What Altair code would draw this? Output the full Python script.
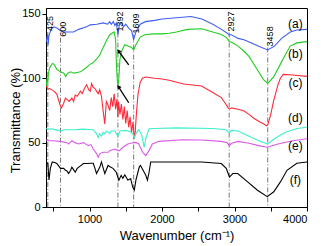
import altair as alt
import pandas as pd

FONT = "Liberation Sans"

# ---- data (wavenumber, transmittance %) ----
a_wn = [400, 412, 422, 430, 440, 470, 509, 550, 600, 640, 700, 780, 850, 960, 1010, 1100, 1190, 1250, 1280, 1300, 1330, 1350, 1370, 1392, 1410, 1440, 1470, 1500, 1540, 1580, 1609, 1640, 1700, 1770, 1900, 2000, 2200, 2400, 2550, 2700, 2820, 2900, 2927, 2950, 3050, 3130, 3250, 3350, 3458, 3550, 3650, 3770, 3860, 4000]
a_t = [128, 131, 134, 126, 133, 138, 140, 139, 137, 136, 136, 136, 138, 140, 141.5, 142, 143, 142, 144, 142, 144, 141, 143, 134, 141, 143, 140, 142, 139, 137, 130, 136, 142, 144, 145, 146, 147, 148, 146, 142, 138, 135, 133.5, 134, 131, 130, 127, 124.5, 122, 125, 131, 136, 137.5, 138]

b_wn = [400, 415, 425, 432, 450, 480, 495, 520, 549, 600, 645, 672, 700, 740, 780, 830, 875, 950, 1011, 1050, 1093, 1140, 1188, 1240, 1283, 1340, 1360, 1372, 1385, 1395, 1405, 1420, 1450, 1487, 1530, 1580, 1609, 1640, 1700, 1772, 1900, 2000, 2100, 2200, 2350, 2546, 2700, 2818, 2880, 2913, 2927, 2960, 3050, 3131, 3200, 3300, 3400, 3458, 3540, 3633, 3700, 3769, 3860, 4000]
b_t = [93, 100, 97, 103, 108, 111, 111.5, 110, 107, 105, 104, 101.5, 104, 105, 104, 104.5, 105, 108, 111, 112, 114.6, 118, 124, 130, 134, 136, 130, 110, 97, 95, 100, 115, 122, 126, 125, 124, 122, 126, 132, 134, 134.5, 134.5, 135, 136, 138, 138.5, 136, 134, 132, 130, 128.5, 128, 125, 121, 117, 108, 99, 96, 101, 111, 118, 125, 127.5, 128.5]

c_wn = [400, 415, 430, 450, 480, 509, 549, 590, 613, 640, 668, 700, 720, 757, 780, 803, 830, 875, 900, 930, 961, 990, 1011, 1029, 1050, 1075, 1097, 1120, 1140, 1165, 1188, 1211, 1232, 1250, 1279, 1300, 1320, 1340, 1360, 1380, 1392, 1400, 1420, 1440, 1460, 1480, 1500, 1520, 1540, 1560, 1580, 1600, 1618, 1630, 1650, 1670, 1700, 1730, 1772, 1900, 2000, 2098, 2300, 2546, 2700, 2818, 2880, 2913, 2930, 2960, 3050, 3131, 3200, 3266, 3350, 3402, 3440, 3460, 3500, 3538, 3600, 3633, 3674, 3800, 4000]
c_t = [94, 93, 91.5, 92, 91, 90, 87.7, 80, 77, 80, 84.6, 83, 82, 84.6, 82, 87, 86, 90, 88, 92, 95, 91, 90, 96, 93, 92, 90, 88, 91, 86, 74.6, 64.6, 82, 80, 75, 85, 78, 88, 76, 84, 70, 82, 72, 80, 68, 78, 65, 75, 62, 70, 58, 66, 53, 58, 75, 88, 97, 100, 101, 100, 99.5, 98.5, 95.5, 94, 89, 85, 80, 77, 76, 77, 76, 74.6, 72, 69, 66, 64.6, 63, 64, 72, 82, 95, 100, 103, 102.5, 101.5]

d_wn = [400, 500, 600, 650, 800, 900, 1052, 1097, 1120, 1140, 1165, 1190, 1211, 1240, 1279, 1300, 1350, 1392, 1420, 1500, 1560, 1595, 1618, 1640, 1680, 1720, 1754, 1780, 1822, 1900, 2200, 2700, 2880, 2927, 2960, 3049, 3200, 3350, 3457, 3550, 3700, 3864, 4000]
d_t = [60.8, 60.5, 59, 60, 60, 60.5, 60, 57, 54, 57, 55, 58, 57, 59, 57, 59, 59, 55, 59, 59.5, 58.5, 57, 54, 57, 60, 56, 46.4, 54, 60.8, 61, 61.5, 61, 60, 57.7, 59.5, 59, 55, 51, 49, 53, 58, 61, 62]

e_wn = [400, 441, 500, 600, 689, 712, 757, 800, 848, 916, 984, 1020, 1052, 1097, 1120, 1143, 1188, 1256, 1279, 1347, 1392, 1415, 1460, 1528, 1570, 1636, 1680, 1731, 1776, 1822, 1867, 1958, 2275, 2546, 2818, 2900, 2927, 2960, 3049, 3200, 3350, 3452, 3600, 3800, 3905, 4000]
e_t = [52, 51.5, 51.5, 51, 50, 49, 51.5, 50, 49, 50, 47.7, 48.5, 45, 41.5, 38.7, 41.5, 42.5, 42.5, 43.8, 45, 44, 43.8, 46.4, 49, 49.5, 50.2, 49, 42.5, 40, 44, 49, 51, 52.3, 52, 51, 50, 47.7, 49.5, 51, 49.5, 47.5, 46.4, 49, 51.5, 52.3, 53]

f_wn = [400, 425, 441, 460, 486, 520, 549, 600, 645, 668, 689, 712, 740, 757, 780, 803, 830, 875, 916, 961, 1029, 1052, 1075, 1097, 1143, 1165, 1190, 1211, 1256, 1290, 1324, 1369, 1405, 1437, 1460, 1487, 1528, 1568, 1595, 1618, 1640, 1686, 1704, 1754, 1776, 1799, 1822, 1844, 1900, 2275, 2546, 2818, 2886, 2913, 2931, 2977, 3045, 3181, 3317, 3452, 3542, 3633, 3724, 3860, 4000]
f_t = [35, 34, 21, 30, 35, 34.5, 33.8, 30, 30, 28.5, 28, 26, 28.5, 31, 29, 27, 30, 32, 33.8, 33.8, 34, 34, 30, 26, 31, 35, 30, 26, 32.3, 31, 30, 27, 20.8, 24.6, 22.3, 25, 21, 22, 15.6, 13, 20.8, 31, 32.3, 27, 24.6, 20.8, 27, 35, 35, 35, 35, 33.8, 30, 26, 23.3, 26, 26, 19.5, 13, 8, 11.8, 19.5, 28.5, 34, 35]

series_names = ["(a)", "(b)", "(c)", "(d)", "(e)", "(f)"]
series_colors = ["#3f5ff0", "#22cc22", "#ff2a3a", "#3cf0cc", "#d95ae8", "#000000"]

peak_wn = [425, 600, 1392, 1609, 2927, 3458]
peak_top = [136, 131.5, 135.5, 134, 135.5, 124]
peak_labels = ["425", "600", "1392", "1609", "2927", "3458"]

label_wn = [3840, 3840, 3840, 3840, 3840, 3840]
label_t = [142, 118.5, 96, 69, 47.7, 20.8]

arrow_x1 = [1541, 1541]
arrow_y1 = [110.5, 81]
arrow_x2 = [1405, 1405]
arrow_y2 = [120.8, 93]

# ---- tables ----
rows = []
for name, wn, t in zip(series_names,
                       [a_wn, b_wn, c_wn, d_wn, e_wn, f_wn],
                       [a_t, b_t, c_t, d_t, e_t, f_t]):
    for w, v in zip(wn, t):
        rows.append({"s": name, "wn": w, "t": v})
lines_df = pd.DataFrame(rows)
peaks_df = pd.DataFrame({"wn": peak_wn, "t": peak_top, "lab": peak_labels})
names_df = pd.DataFrame({"wn": label_wn, "t": label_t, "lab": series_names})
arrows_df = pd.DataFrame({"wn": arrow_x1, "t": arrow_y1, "wn2": arrow_x2, "t2": arrow_y2})

XT = "Wavenumber (cm⁻¹)"
YT = "Transmittance (%)"
xs = alt.Scale(domain=[400, 4000], nice=False, zero=False)
ys = alt.Scale(domain=[0, 154.6], nice=False)
xaxis = alt.Axis(values=[500, 1000, 1500, 2000, 2500, 3000, 3500, 4000],
                 labelExpr="datum.value % 1000 == 0 ? datum.label : ''",
                 format="d", grid=False, tickSize=4, labelPadding=2,
                 titleBaseline="alphabetic", titleY=32)
yaxis = alt.Axis(values=[0, 50, 100, 150], grid=False, tickSize=4,
                 labelPadding=2, titleAngle=270, titleBaseline="top",
                 titleX=-37, titleY=112, titleAlign="center")


def X(f="wn"):
    return alt.X(f + ":Q", scale=xs, axis=xaxis, title=XT)


def Y(f="t"):
    return alt.Y(f + ":Q", scale=ys, axis=yaxis, title=YT)


vlines = alt.Chart(peaks_df).mark_rule(
    color="#555555", strokeWidth=0.8, strokeDash=[5, 2, 1, 2]
).encode(x=X(), y=Y(), y2=alt.datum(0))

curves = alt.Chart(lines_df).mark_line(strokeWidth=1.1, clip=True).encode(
    x=X(), y=Y(),
    color=alt.Color("s:N", scale=alt.Scale(domain=series_names, range=series_colors), legend=None),
)

peak_text = alt.Chart(peaks_df).mark_text(
    angle=270, align="left", baseline="middle", dx=1, dy=2,
    fontSize=9, font=FONT, color="black"
).encode(x=X(), y=Y(), text="lab:N")

name_text = alt.Chart(names_df).mark_text(
    align="center", baseline="middle", fontSize=12, font=FONT, color="black"
).encode(x=X(), y=Y(), text="lab:N")

arrow_lines = alt.Chart(arrows_df).mark_rule(color="black", strokeWidth=1.3).encode(
    x=X(), y=Y(), x2="wn2:Q", y2="t2:Q"
)
arrow_heads = alt.Chart(arrows_df).mark_point(
    shape="triangle", filled=True, size=22, angle=325, color="black", opacity=1
).encode(x=X("wn2"), y=Y("t2"))

chart = alt.layer(vlines, curves, peak_text, name_text, arrow_lines, arrow_heads).properties(
    width=261, height=199,
    autosize=alt.AutoSizeParams(type="none"),
    padding={"left": 38, "top": 0, "right": 7, "bottom": 38},
).configure_view(stroke="black", strokeWidth=1).configure_axis(
    labelFont=FONT, titleFont=FONT, labelFontSize=11, titleFontSize=13,
    titleFontWeight="normal", labelColor="black", titleColor="black",
    domainColor="black", tickColor="black", domainWidth=1, tickWidth=1,
)

chart.save("out.html", embed_options={"renderer": "svg", "actions": False})
